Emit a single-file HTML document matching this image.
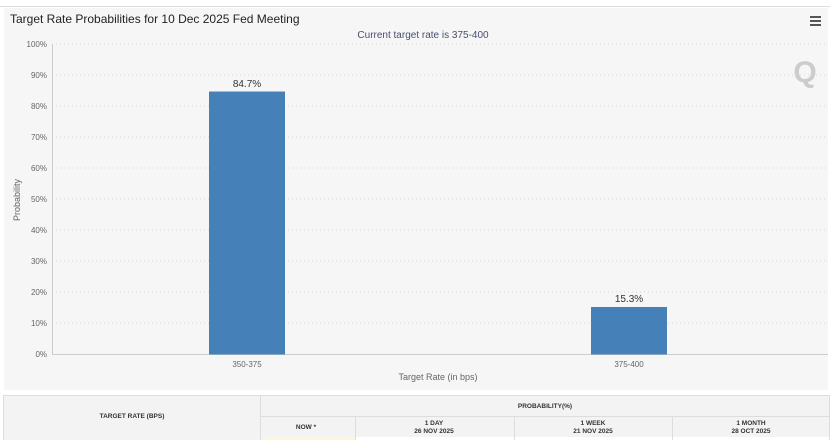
<!DOCTYPE html><html><head><style>
body{margin:0;width:840px;height:440px;overflow:hidden;background:#fff;font-family:"Liberation Sans",sans-serif;position:relative}
.a{position:absolute}
</style></head><body>
<div class="a" style="left:0;top:0;width:830px;height:6px;border-bottom:1px solid #ddd;font-size:7px;color:#999"></div>
<div class="a" style="left:4px;top:8px;width:824px;height:382px;background:#f6f6f6"></div>
<svg class="a" style="left:0;top:0" width="840" height="440" font-family="Liberation Sans, sans-serif">
<text x="10" y="23" font-size="12" fill="#222">Target Rate Probabilities for 10 Dec 2025 Fed Meeting</text>
<g fill="#555"><rect x="810" y="16" width="11" height="2"/><rect x="810" y="20" width="11" height="2"/><rect x="810" y="24" width="11" height="2"/></g>
<text x="423" y="38" font-size="10" fill="#4a4f6d" text-anchor="middle">Current target rate is 375-400</text>
<text x="805" y="82" font-size="30" fill="#ccc" font-weight="bold" text-anchor="middle">Q</text>
<g stroke="#d8d8d8" stroke-dasharray="1,3">
<line x1="52" x2="828" y1="44" y2="44"/><line x1="52" x2="828" y1="75" y2="75"/><line x1="52" x2="828" y1="106" y2="106"/><line x1="52" x2="828" y1="137" y2="137"/><line x1="52" x2="828" y1="168" y2="168"/><line x1="52" x2="828" y1="199" y2="199"/><line x1="52" x2="828" y1="230" y2="230"/><line x1="52" x2="828" y1="261" y2="261"/><line x1="52" x2="828" y1="292" y2="292"/><line x1="52" x2="828" y1="323" y2="323"/></g>
<line x1="52" x2="828" y1="354.5" y2="354.5" stroke="#ccc"/>
<line x1="52.5" x2="52.5" y1="44" y2="354" stroke="#ccc"/>
<g font-size="8" fill="#666" text-anchor="end">
<text x="47" y="47">100%</text><text x="47" y="78">90%</text><text x="47" y="109">80%</text><text x="47" y="140">70%</text><text x="47" y="171">60%</text><text x="47" y="202">50%</text><text x="47" y="233">40%</text><text x="47" y="264">30%</text><text x="47" y="295">20%</text><text x="47" y="326">10%</text><text x="47" y="357">0%</text></g>
<text transform="translate(20,200) rotate(-90)" font-size="9" fill="#666" text-anchor="middle">Probability</text>
<rect x="209" y="91.5" width="76" height="263" fill="#4580b8"/>
<rect x="591" y="307" width="76" height="47.5" fill="#4580b8"/>
<text x="247" y="87" font-size="10" fill="#333" text-anchor="middle">84.7%</text>
<text x="629" y="302" font-size="10" fill="#333" text-anchor="middle">15.3%</text>
<text x="247" y="367" font-size="8" fill="#666" text-anchor="middle">350-375</text>
<text x="629" y="367" font-size="8" fill="#666" text-anchor="middle">375-400</text>
<text x="438" y="380" font-size="9" fill="#666" text-anchor="middle">Target Rate (in bps)</text>
<g stroke="#ddd" fill="none">
<rect x="3.5" y="395.5" width="826" height="50"/>
<line x1="260.5" x2="260.5" y1="396" y2="440"/>
<line x1="260" x2="830" y1="416.5" y2="416.5"/>
<line x1="355.5" x2="355.5" y1="417" y2="440"/>
<line x1="514.5" x2="514.5" y1="417" y2="440"/>
<line x1="672.5" x2="672.5" y1="417" y2="440"/>
</g>
<rect x="4" y="396" width="256" height="44" fill="#f3f3f3"/>
<rect x="261" y="396" width="568" height="20" fill="#f3f3f3"/>
<rect x="261" y="417" width="94" height="20" fill="#f3f3f3"/>
<rect x="356" y="417" width="158" height="20" fill="#f3f3f3"/>
<rect x="515" y="417" width="157" height="20" fill="#f3f3f3"/>
<rect x="673" y="417" width="156" height="20" fill="#f3f3f3"/>
<rect x="261" y="437" width="94" height="3" fill="#fbf7d8"/>
<g font-size="6.5" fill="#333" text-anchor="middle" font-weight="bold">
<text x="132" y="418">TARGET RATE (BPS)</text>
<text x="545" y="408">PROBABILITY(%)</text>
<text x="306" y="429">NOW *</text>
<text x="434" y="425">1 DAY</text><text x="434" y="433">26 NOV 2025</text>
<text x="593" y="425">1 WEEK</text><text x="593" y="433">21 NOV 2025</text>
<text x="751" y="425">1 MONTH</text><text x="751" y="433">28 OCT 2025</text>
</g>
</svg>
</body></html>
